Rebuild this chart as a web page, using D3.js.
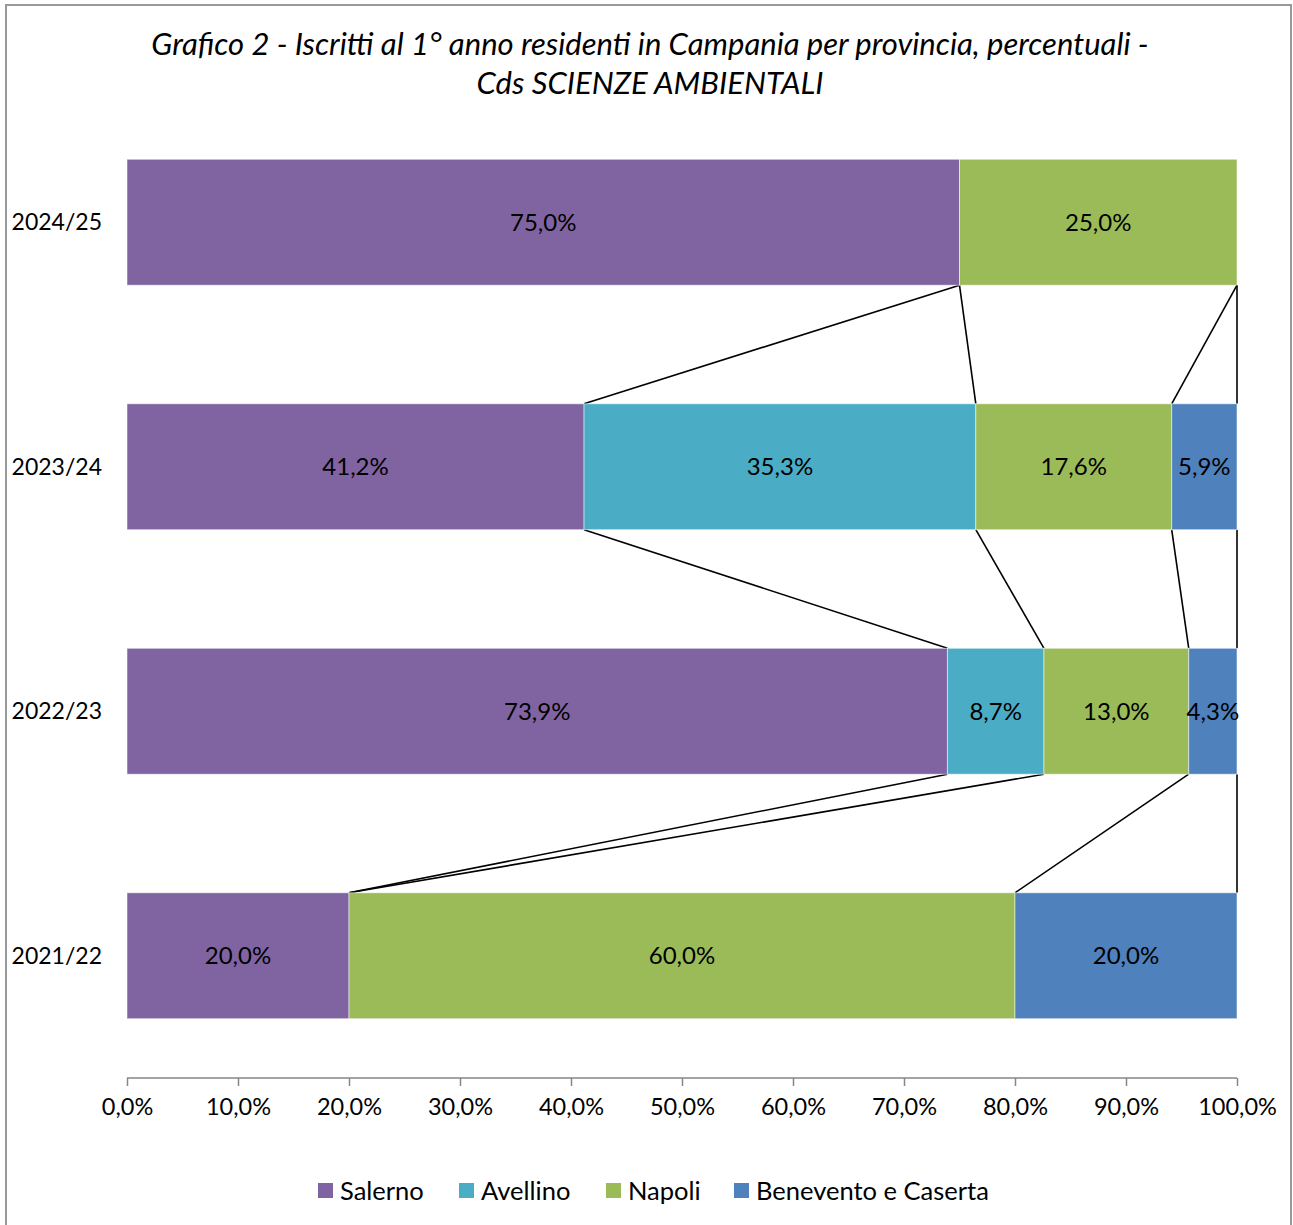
<!DOCTYPE html>
<html>
<head>
<meta charset="utf-8">
<script src="https://cdn.jsdelivr.net/npm/d3@7"></script>
<style>
  body { margin: 0; background: #fff; }
  svg text { font-family: Lato, "Open Sans", sans-serif; fill: #000; }
</style>
</head>
<body>
<div id="chart-area"></div>
<script>
// data, top bar first (shares of each year's total)
var years = ["2024/25", "2023/24", "2022/23", "2021/22"];
var seriesNames = ["Salerno", "Avellino", "Napoli", "Benevento e Caserta"];
var salerno = [75.0, 41.176, 73.913, 20.0];
var avellino = [0, 35.294, 8.696, 0];
var napoli = [25.0, 17.647, 13.043, 60.0];
var beneventoCaserta = [0, 5.883, 4.348, 20.0];
var xTicks = [0, 10, 20, 30, 40, 50, 60, 70, 80, 90, 100];
var colors = ["#8064A2", "#4BACC6", "#9BBB59", "#4F81BD"];

var titleLines = ["Grafico 2 - Iscritti al 1° anno residenti in Campania per provincia, percentuali -",
                  "Cds SCIENZE AMBIENTALI"];

var W = 1293, H = 1225;
var margins = { left: 127, right: 56, top: 100, bottom: 147 };

function pct(v) { return v.toFixed(1).replace(".", ",") + "%"; }

var svg = d3.select("#chart-area").append("svg")
    .attr("width", W)
    .attr("height", H);

// chart frame (bottom edge is off the picture)
svg.append("rect")
    .attr("x", 6).attr("y", 5)
    .attr("width", 1285).attr("height", H + 20)
    .attr("fill", "#fff")
    .attr("stroke", "#999")
    .attr("stroke-width", 2);

// title
svg.append("g").selectAll("text")
    .data(titleLines)
    .enter().append("text")
    .attr("x", 650)
    .attr("y", function(d, i) { return 55 + i * 39; })
    .attr("text-anchor", "middle")
    .style("font-style", "italic")
    .style("font-size", "31px")
    .text(function(d) { return d; });

var x = d3.scaleLinear().domain([0, 100]).range([margins.left, W - margins.right]);
var y = d3.scaleBand().domain(years).range([margins.top, H - margins.bottom])
    .paddingInner(0.485).paddingOuter(0.2425);

// stack the series
var rows = years.map(function(yr, i) {
  return { year: yr, "Salerno": salerno[i], "Avellino": avellino[i],
           "Napoli": napoli[i], "Benevento e Caserta": beneventoCaserta[i] };
});
var stacked = d3.stack().keys(seriesNames)(rows);

// series lines between neighbouring bars (right edge of each series)
var lineG = svg.append("g");
stacked.forEach(function(layer) {
  for (var i = 0; i < years.length - 1; ++i) {
    lineG.append("line")
      .attr("x1", x(layer[i][1]))
      .attr("y1", y(years[i]) + y.bandwidth())
      .attr("x2", x(layer[i + 1][1]))
      .attr("y2", y(years[i + 1]))
      .attr("stroke", "#000")
      .attr("stroke-width", 1.6);
  }
});

// bars
var layers = svg.append("g").selectAll("g")
    .data(stacked)
    .enter().append("g")
    .attr("fill", function(d, i) { return colors[i]; });

layers.selectAll("rect")
    .data(function(d) { return d.filter(function(s) { return s[1] - s[0] > 0; }); })
    .enter().append("rect")
    .attr("x", function(d) { return x(d[0]); })
    .attr("y", function(d) { return y(d.data.year); })
    .attr("width", function(d) { return x(d[1]) - x(d[0]); })
    .attr("height", y.bandwidth())
    .attr("stroke", "#fff")
    .attr("stroke-opacity", 0.5)
    .attr("stroke-width", 1);

// data labels
layers.selectAll("text")
    .data(function(d) { return d.filter(function(s) { return s[1] - s[0] > 0; }); })
    .enter().append("text")
    .attr("x", function(d) { return (x(d[0]) + x(d[1])) / 2; })
    .attr("y", function(d) { return y(d.data.year) + y.bandwidth() / 2; })
    .attr("dy", "0.35em")
    .attr("text-anchor", "middle")
    .style("font-size", "24px")
    .text(function(d) { return pct(d[1] - d[0]); });

// category labels
svg.append("g").selectAll("text")
    .data(years)
    .enter().append("text")
    .attr("x", 102)
    .attr("y", function(d) { return y(d) + y.bandwidth() / 2; })
    .attr("dy", "0.35em")
    .attr("text-anchor", "end")
    .style("font-size", "23px")
    .text(function(d) { return d; });

// x axis
var xAxisGroup = svg.append("g")
    .attr("transform", "translate(0," + (H - margins.bottom) + ")")
    .call(d3.axisBottom(x)
      .tickValues(xTicks)
      .tickSize(8)
      .tickPadding(12)
      .tickFormat(pct));
xAxisGroup.select(".domain").attr("stroke", "#868686").attr("stroke-width", 1.5)
    .attr("d", "M" + x(0) + ",0H" + x(100));
xAxisGroup.selectAll(".tick line").attr("stroke", "#868686").attr("stroke-width", 1.5);
xAxisGroup.selectAll(".tick text")
    .style("font-family", "Lato, 'Open Sans', sans-serif")
    .style("font-size", "23.5px")
    .attr("fill", "#000");

// legend
var legendX = [318, 459, 606, 734];
var legend = svg.append("g").selectAll("g")
    .data(seriesNames)
    .enter().append("g")
    .attr("transform", function(d, i) { return "translate(" + legendX[i] + ",1183)"; });
legend.append("rect")
    .attr("width", 15).attr("height", 15)
    .attr("fill", function(d, i) { return colors[i]; });
legend.append("text")
    .attr("x", 22).attr("y", 7.5)
    .attr("dy", "0.36em")
    .style("font-size", "25.5px")
    .text(function(d) { return d; });
</script>
</body>
</html>
